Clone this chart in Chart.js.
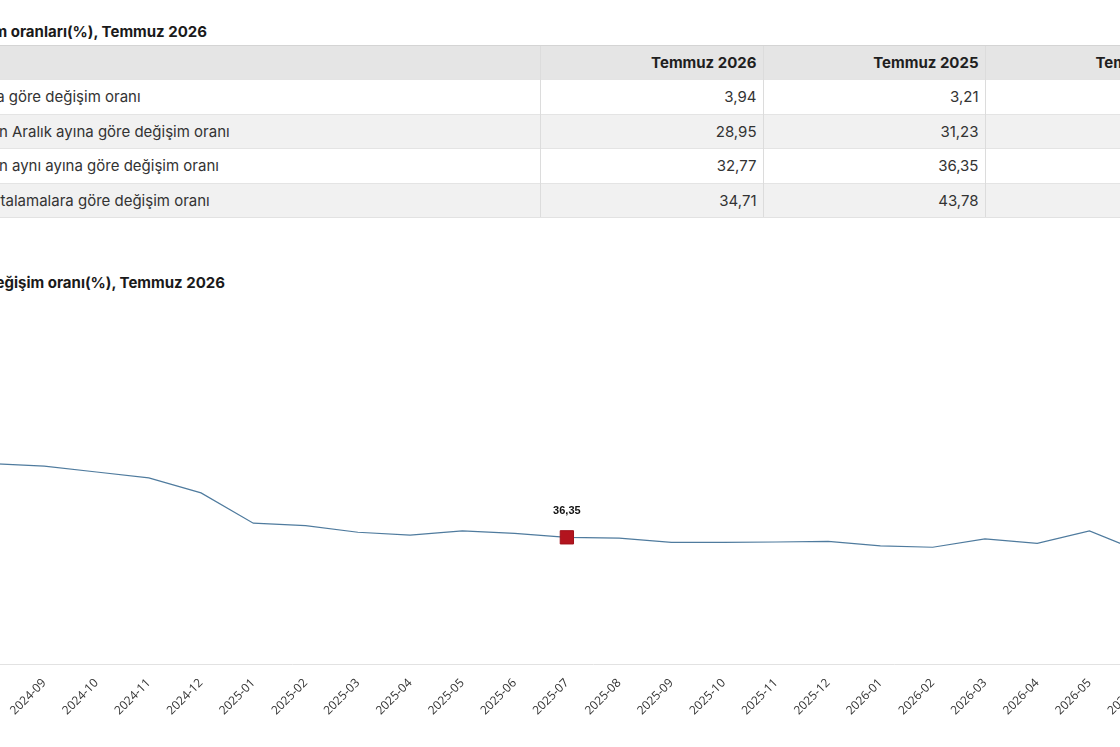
<!DOCTYPE html>
<html lang="tr">
<head>
<meta charset="utf-8">
<title>TÜFE değişim oranları, Temmuz 2026</title>
<script src="https://cdn.jsdelivr.net/npm/chart.js@4.4.1/dist/chart.umd.min.js"></script>
<style>
  html, body { margin: 0; padding: 0; background: #fff; }
  body {
    width: 1120px; height: 747px; overflow: hidden; position: relative;
    font-family: Inter, "Noto Sans", sans-serif; color: #222;
  }
  .title {
    position: absolute; white-space: nowrap;
    font-weight: 700; font-size: 15px; line-height: 20px; color: #1a1a1a;
  }
  #t1 { right: 913px; top: 22px; }
  #t2 { right: 895px; top: 273px; }
  #rates {
    position: absolute; left: -105px; top: 45px;
    border-collapse: collapse; table-layout: fixed; width: 1312px;
    font-size: 15px;
  }
  #rates th, #rates td {
    box-sizing: border-box; padding: 0 6px 0 10px;
    white-space: nowrap; overflow: hidden; text-align: right;
    border-left: 1px solid #dcdcdc;
  }
  #rates th:first-child, #rates td:first-child { border-left: none; text-align: left; }
  #rates th { height: 34px; background: #e5e5e5; font-weight: 700; color: #1f1f1f; border-top: 1px solid #d4d4d4; }
  #rates td { height: 34.5px; color: #333; border-top: 1px solid #e4e4e4; }
  #rates tbody tr:nth-child(even) td { background: #f1f1f1; }
  #rates tbody tr:last-child td { border-bottom: 1px solid #e2e2e2; }
  #chartBox { position: absolute; left: -60px; top: 296px; width: 1320px; height: 451px; }
</style>
</head>
<body>
<div class="title" id="t1">Tüketici fiyat endeksi değişim oranları(%), Temmuz 2026</div>
<table id="rates">
  <colgroup>
    <col style="width:645px"><col style="width:223px"><col style="width:222px"><col style="width:222px">
  </colgroup>
  <thead></thead>
  <tbody></tbody>
</table>
<div class="title" id="t2">Tüketici fiyat endeksi yıllık değişim oranı(%), Temmuz 2026</div>
<div id="chartBox"><canvas id="chart"></canvas></div>

<script>
// tablo
const rowLabels = [
  "Bir önceki aya göre değişim oranı",
  "Bir önceki yılın Aralık ayına göre değişim oranı",
  "Bir önceki yılın aynı ayına göre değişim oranı",
  "On iki aylık ortalamalara göre değişim oranı",
];
const periods = ["Temmuz 2026", "Temmuz 2025", "Temmuz 2024"];
const rateJul2026 = [3.94, 28.95, 32.77, 34.71];
const rateJul2025 = [3.21, 31.23, 36.35, 43.78];
const rateJul2024 = [null, null, null, null]; // görüntünün dışında kalıyor

// grafik: yıllık değişim oranı (%)
const months = [
  "2024-08", "2024-09", "2024-10", "2024-11", "2024-12",
  "2025-01", "2025-02", "2025-03", "2025-04", "2025-05", "2025-06",
  "2025-07", "2025-08", "2025-09", "2025-10", "2025-11", "2025-12",
  "2026-01", "2026-02", "2026-03", "2026-04", "2026-05", "2026-06", "2026-07",
];
const annualRate = [
  57.5, 56.8, 55.1, 53.4, 49.1,
  40.4, 39.7, 37.8, 37.0, 38.2, 37.5,
  36.35, 36.1, 34.9, 34.9, 35.0, 35.2,
  33.9, 33.5, 35.9, 34.6, 38.2, 32.1, 32.77,
];
const highlightMonth = "2025-07";

const fmt = (v) => (v == null ? "" : v.toFixed(2).replace(".", ","));

function buildTable() {
  const head = document.querySelector("#rates thead");
  const body = document.querySelector("#rates tbody");
  const cols = [rateJul2026, rateJul2025, rateJul2024];

  const hr = document.createElement("tr");
  hr.appendChild(document.createElement("th"));
  periods.forEach((p) => {
    const th = document.createElement("th");
    th.textContent = p;
    hr.appendChild(th);
  });
  head.appendChild(hr);

  rowLabels.forEach((label, i) => {
    const tr = document.createElement("tr");
    const first = document.createElement("td");
    first.textContent = label;
    tr.appendChild(first);
    cols.forEach((col) => {
      const td = document.createElement("td");
      td.textContent = fmt(col[i]);
      tr.appendChild(td);
    });
    body.appendChild(tr);
  });
}

function buildChart() {
  const hi = months.indexOf(highlightMonth);

  // seçili ayın değerini noktanın üstüne yaz
  const valueLabel = {
    id: "valueLabel",
    afterDatasetsDraw(chart) {
      const pt = chart.getDatasetMeta(0).data[hi];
      const c = chart.ctx;
      c.save();
      c.font = 'bold 11px "Liberation Sans", Arial, sans-serif';
      c.fillStyle = "#111";
      c.textAlign = "center";
      c.textBaseline = "middle";
      c.fillText(fmt(annualRate[hi]), pt.x, pt.y - 26);
      c.restore();
    },
  };

  const ctx = document.getElementById("chart").getContext("2d");
  new Chart(ctx, {
    type: "line",
    data: {
      labels: months,
      datasets: [
        {
          data: annualRate,
          borderColor: "#4f7b9e",
          borderWidth: 1.2,
          tension: 0,
          pointStyle: "rect",
          pointRadius: (c) => (c.dataIndex === hi ? 9.4 : 0),
          pointHoverRadius: (c) => (c.dataIndex === hi ? 9.4 : 0),
          pointBackgroundColor: "#b3141e",
          pointBorderColor: "#a01019",
          pointBorderWidth: 1,
        },
      ],
    },
    options: {
      animation: false,
      responsive: true,
      maintainAspectRatio: false,
      layout: { padding: { left: 52, right: 66, top: 19.5, bottom: 0 } },
      plugins: {
        legend: { display: false },
        tooltip: { enabled: false },
      },
      scales: {
        x: {
          grid: { display: false, drawTicks: false },
          border: { display: true, color: "#e2e2e2" },
          ticks: {
            autoSkip: false,
            maxRotation: 45,
            minRotation: 45,
            padding: 12,
            color: "#333",
            font: { family: '"Open Sans"', size: 12 },
          },
          afterFit(scale) {
            scale.height = 83;
            scale.paddingLeft = 0;
            scale.paddingRight = 0;
          },
        },
        y: { display: false, min: 0, max: 100 },
      },
    },
    plugins: [valueLabel],
  });
}

buildTable();
Promise.all([
  document.fonts.load('12px "Open Sans"'),
  document.fonts.load('bold 11px "Liberation Sans"'),
]).finally(buildChart);
</script>
</body>
</html>
